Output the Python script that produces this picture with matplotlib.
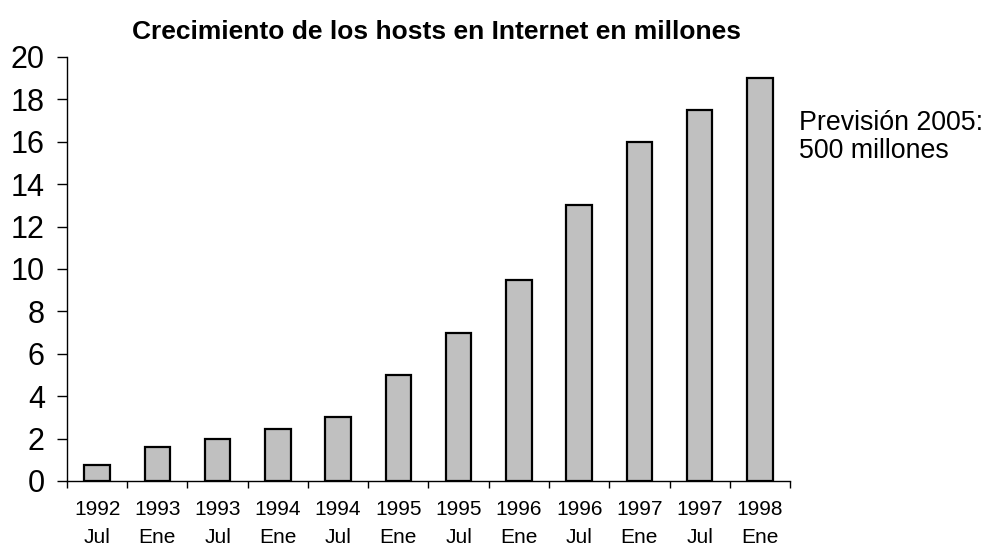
import matplotlib
matplotlib.use("Agg")
import matplotlib.pyplot as plt
import numpy as np

plt.rcParams["font.family"] = ["Liberation Sans", "DejaVu Sans"]

# Internet hosts (millions), half-yearly survey
years = ["1992", "1993", "1993", "1994", "1994", "1995", "1995",
         "1996", "1996", "1997", "1997", "1998"]
months = ["Jul", "Ene", "Jul", "Ene", "Jul", "Ene", "Jul",
          "Ene", "Jul", "Ene", "Jul", "Ene"]
hosts = [0.75, 1.6, 2.0, 2.45, 3.0, 5.0, 7.0, 9.5, 13.0, 16.0, 17.5, 19.0]

fig = plt.figure(figsize=(9.82, 5.49), dpi=100)
ax = fig.add_axes([0.0682, 0.1239, 0.7363, 0.7723])

x = np.arange(len(hosts))
ax.bar(x, hosts, width=0.42, color="#c0c0c0", edgecolor="black", linewidth=1.6)

ax.set_xlim(-0.5, len(hosts) - 0.5)
ax.set_ylim(0, 20)
ax.set_yticks(range(0, 21, 2))
ax.tick_params(axis="y", direction="out", length=7, width=1.0, pad=9, labelsize=22)

# boundary ticks without labels, category labels on minor ticks
ax.set_xticks(np.arange(-0.5, len(hosts), 1.0))
ax.set_xticklabels([])
ax.tick_params(axis="x", which="major", direction="out", length=5, width=1.0)
ax.set_xticks(x, minor=True)
ax.set_xticklabels([f"{y}\n{m}" for y, m in zip(years, months)], minor=True,
                   linespacing=1.6)
ax.tick_params(axis="x", which="minor", length=0, pad=14, labelsize=15)

for side in ("top", "right"):
    ax.spines[side].set_visible(False)
for side in ("left", "bottom"):
    ax.spines[side].set_linewidth(1.0)

fig.text(0.445, 0.942, "Crecimiento de los hosts en Internet en millones",
         ha="center", va="center", fontsize=19, fontweight="bold")
fig.text(0.814, 0.75, "Previsión 2005:\n500 millones", ha="left", va="center",
         fontsize=19.3, linespacing=1.1)

fig.savefig("out.png", dpi=100)
